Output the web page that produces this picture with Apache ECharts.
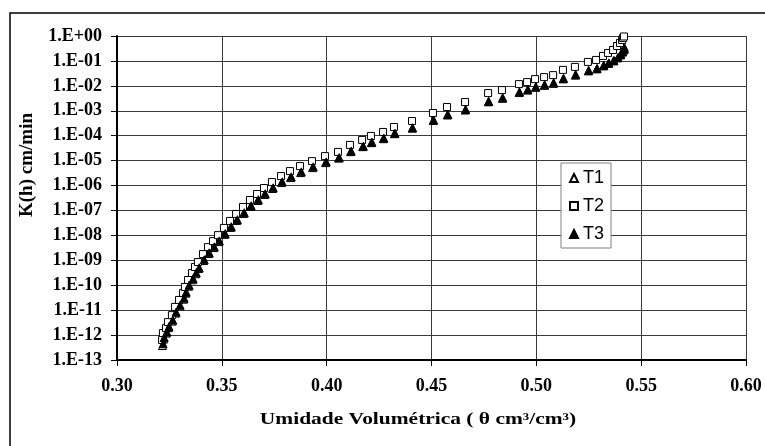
<!DOCTYPE html>
<html>
<head>
<meta charset="utf-8">
<script src="https://cdn.jsdelivr.net/npm/echarts@6/dist/echarts.min.js"></script>
<style>
html,body{margin:0;padding:0;background:#fff;}
#chart{width:765px;height:446px;}
</style>
</head>
<body>
<div id="chart"></div>
<script>
var seriesNames = ["T1", "T2", "T3"];
var xTickLabels = ["0.30", "0.35", "0.40", "0.45", "0.50", "0.55", "0.60"];
var yTickLabels = ["1.E-13","1.E-12","1.E-11","1.E-10","1.E-09","1.E-08","1.E-07","1.E-06","1.E-05","1.E-04","1.E-03","1.E-02","1.E-01","1.E+00"];

// T2 (open squares): theta and log10 K(h)
var t2Theta = [0.3215,0.3219,0.3234,0.3243,0.3262,0.3277,0.3296,0.3315,0.3324,0.3339,0.3358,0.3372,0.3386,0.3410,0.3434,0.3458,0.3482,0.3510,0.3539,0.3568,0.3601,0.3634,0.3668,0.3701,0.3739,0.3782,0.3825,0.3873,0.3930,0.3992,0.4054,0.4111,0.4169,0.4211,0.4269,0.4321,0.4407,0.4507,0.4574,0.4660,0.4770,0.4836,0.4917,0.4956,0.4994,0.5037,0.5080,0.5127,0.5184,0.5246,0.5285,0.5318,0.5342,0.5366,0.5385,0.5399,0.5409,0.5414,0.5418];
var t2LogK = [-12.20,-11.92,-11.72,-11.48,-11.20,-10.87,-10.59,-10.31,-10.07,-9.79,-9.51,-9.27,-9.07,-8.75,-8.47,-8.23,-7.99,-7.70,-7.42,-7.14,-6.86,-6.58,-6.34,-6.10,-5.86,-5.62,-5.42,-5.22,-5.02,-4.82,-4.65,-4.37,-4.17,-4.01,-3.85,-3.65,-3.41,-3.09,-2.85,-2.65,-2.29,-2.17,-1.93,-1.85,-1.73,-1.65,-1.57,-1.36,-1.24,-1.04,-0.96,-0.80,-0.68,-0.56,-0.40,-0.28,-0.16,-0.08,-0.02];

// T3 (filled triangles)
var t3Theta = [0.3220,0.3225,0.3238,0.3248,0.3266,0.3282,0.3301,0.3320,0.3330,0.3344,0.3363,0.3378,0.3392,0.3416,0.3440,0.3464,0.3488,0.3516,0.3545,0.3574,0.3607,0.3640,0.3674,0.3707,0.3745,0.3788,0.3831,0.3879,0.3936,0.3998,0.4060,0.4117,0.4175,0.4216,0.4273,0.4326,0.4410,0.4510,0.4578,0.4663,0.4773,0.4840,0.4920,0.4960,0.4998,0.5040,0.5083,0.5130,0.5188,0.5250,0.5290,0.5322,0.5346,0.5370,0.5390,0.5403,0.5412,0.5418,0.5420];
var t3LogK = [-12.35,-12.10,-11.88,-11.66,-11.40,-11.08,-10.80,-10.52,-10.28,-10.00,-9.74,-9.50,-9.30,-8.98,-8.70,-8.46,-8.22,-7.93,-7.65,-7.37,-7.09,-6.81,-6.57,-6.33,-6.09,-5.85,-5.65,-5.45,-5.25,-5.05,-4.88,-4.62,-4.42,-4.26,-4.10,-3.90,-3.68,-3.37,-3.15,-2.95,-2.62,-2.48,-2.25,-2.15,-2.04,-1.96,-1.88,-1.70,-1.55,-1.38,-1.30,-1.18,-1.08,-0.98,-0.86,-0.74,-0.64,-0.56,-0.50];

// T1 (open triangles)
var t1Theta = [0.3217,0.3222,0.3235,0.3245,0.3263,0.3279,0.3298,0.3317,0.3327,0.3341,0.3360,0.3375,0.3389,0.3413,0.3437,0.3461,0.3485,0.3513,0.3542,0.3571,0.3604,0.3637,0.3671,0.3704,0.3742,0.3785,0.3828,0.3876,0.3933,0.3995,0.4057,0.4114,0.4172,0.4213,0.4270,0.4323,0.4408,0.4508,0.4576,0.4661,0.4771,0.4838,0.4918,0.4958,0.4996,0.5038,0.5081,0.5128,0.5186,0.5248,0.5288,0.5320,0.5344,0.5368,0.5388,0.5401,0.5410,0.5416,0.5419];
var t1LogK = [-12.42,-12.16,-11.92,-11.70,-11.44,-11.12,-10.84,-10.56,-10.32,-10.04,-9.78,-9.54,-9.33,-9.01,-8.73,-8.49,-8.25,-7.96,-7.68,-7.40,-7.12,-6.84,-6.60,-6.36,-6.12,-5.88,-5.68,-5.48,-5.28,-5.08,-4.90,-4.64,-4.44,-4.28,-4.12,-3.92,-3.70,-3.39,-3.17,-2.97,-2.64,-2.50,-2.27,-2.17,-2.06,-1.98,-1.90,-1.72,-1.57,-1.40,-1.32,-1.20,-1.10,-1.00,-0.88,-0.76,-0.64,-0.54,-0.44];

function pairs(th, lk) {
  return th.map(function (t, i) { return [t, Math.pow(10, lk[i])]; });
}

var serif = "'Liberation Serif','Times New Roman',serif";
var chart = echarts.init(document.getElementById('chart'), null, {renderer: 'canvas'});
var gridColor = '#3a3a3a';

chart.setOption({
  backgroundColor: '#ffffff',
  animation: false,
  grid: {left: 117, top: 36, right: 19, bottom: 86, containLabel: false},
  xAxis: {
    type: 'value', min: 0.30, max: 0.60, interval: 0.05,
    axisLine: {show: true, onZero: false, lineStyle: {color: '#000', width: 2}},
    axisTick: {show: true, inside: false, length: 6, lineStyle: {color: '#000', width: 1}},
    axisLabel: {
      margin: 17, color: '#000', fontFamily: serif, fontWeight: 'bold', fontSize: 18,
      formatter: function (v) { return xTickLabels[Math.round((v - 0.30) / 0.05)]; }
    },
    splitLine: {show: true, lineStyle: {color: gridColor, width: 1}}
  },
  yAxis: {
    type: 'log', logBase: 10, min: 1e-13, max: 1, interval: 1, splitNumber: 13,
    axisLine: {show: true, lineStyle: {color: '#000', width: 2}},
    axisTick: {show: true, inside: false, length: 6, lineStyle: {color: '#000', width: 1}},
    axisLabel: {
      margin: 15, color: '#000', fontFamily: serif, fontWeight: 'bold', fontSize: 18,
      formatter: function (v) { var e = Math.round(Math.log10(v)); return yTickLabels[e + 13]; }
    },
    splitLine: {show: true, lineStyle: {color: gridColor, width: 1}},
    minorTick: {show: false}, minorSplitLine: {show: false}
  },
  legend: {
    data: seriesNames,
    orient: 'vertical', left: 561, top: 163,
    itemWidth: 8, itemHeight: 8, itemGap: 10,
    padding: [6, 7, 5, 8],
    backgroundColor: '#fff', borderColor: '#808080', borderWidth: 1, borderRadius: 0,
    textStyle: {fontFamily: "'Liberation Sans',Arial,sans-serif", fontSize: 18, color: '#000'},
    itemTextGap: 10
  },
  series: [
    {
      name: 'T1', type: 'scatter', symbol: 'triangle', symbolSize: 8,
      itemStyle: {color: '#fff', borderColor: '#000', borderWidth: 1, opacity: 1},
      data: pairs(t1Theta, t1LogK), z: 3
    },
    {
      name: 'T2', type: 'scatter', symbol: 'rect', symbolSize: 7,
      itemStyle: {color: '#fff', borderColor: '#000', borderWidth: 1, opacity: 1},
      data: pairs(t2Theta, t2LogK), z: 4
    },
    {
      name: 'T3', type: 'scatter', symbol: 'triangle', symbolSize: 8,
      itemStyle: {color: '#000', borderColor: '#000', borderWidth: 1, opacity: 1},
      data: pairs(t3Theta, t3LogK), z: 5
    }
  ],
  graphic: [
    {
      type: 'rect', x: 10, y: 13, z: -10, silent: true,
      shape: {x: 0, y: 0, width: 760, height: 440},
      style: {fill: 'none', stroke: '#000', lineWidth: 1.5}
    },
    {
      type: 'text', silent: true,
      x: 27, y: 165, rotation: Math.PI / 2,
      style: {text: 'K(h) cm/min', fontFamily: serif, fontWeight: 'bold', fontSize: 19, fill: '#000', textAlign: 'center', textVerticalAlign: 'middle'}
    },
    {
      type: 'text', silent: true,
      x: 418, y: 420, scaleX: 1.3, scaleY: 1,
      style: {text: 'Umidade Volumétrica ( θ cm³/cm³)', fontFamily: serif, fontWeight: 'bold', fontSize: 16.5, fill: '#000', textAlign: 'center', textVerticalAlign: 'middle'}
    }
  ]
});
</script>
</body>
</html>
